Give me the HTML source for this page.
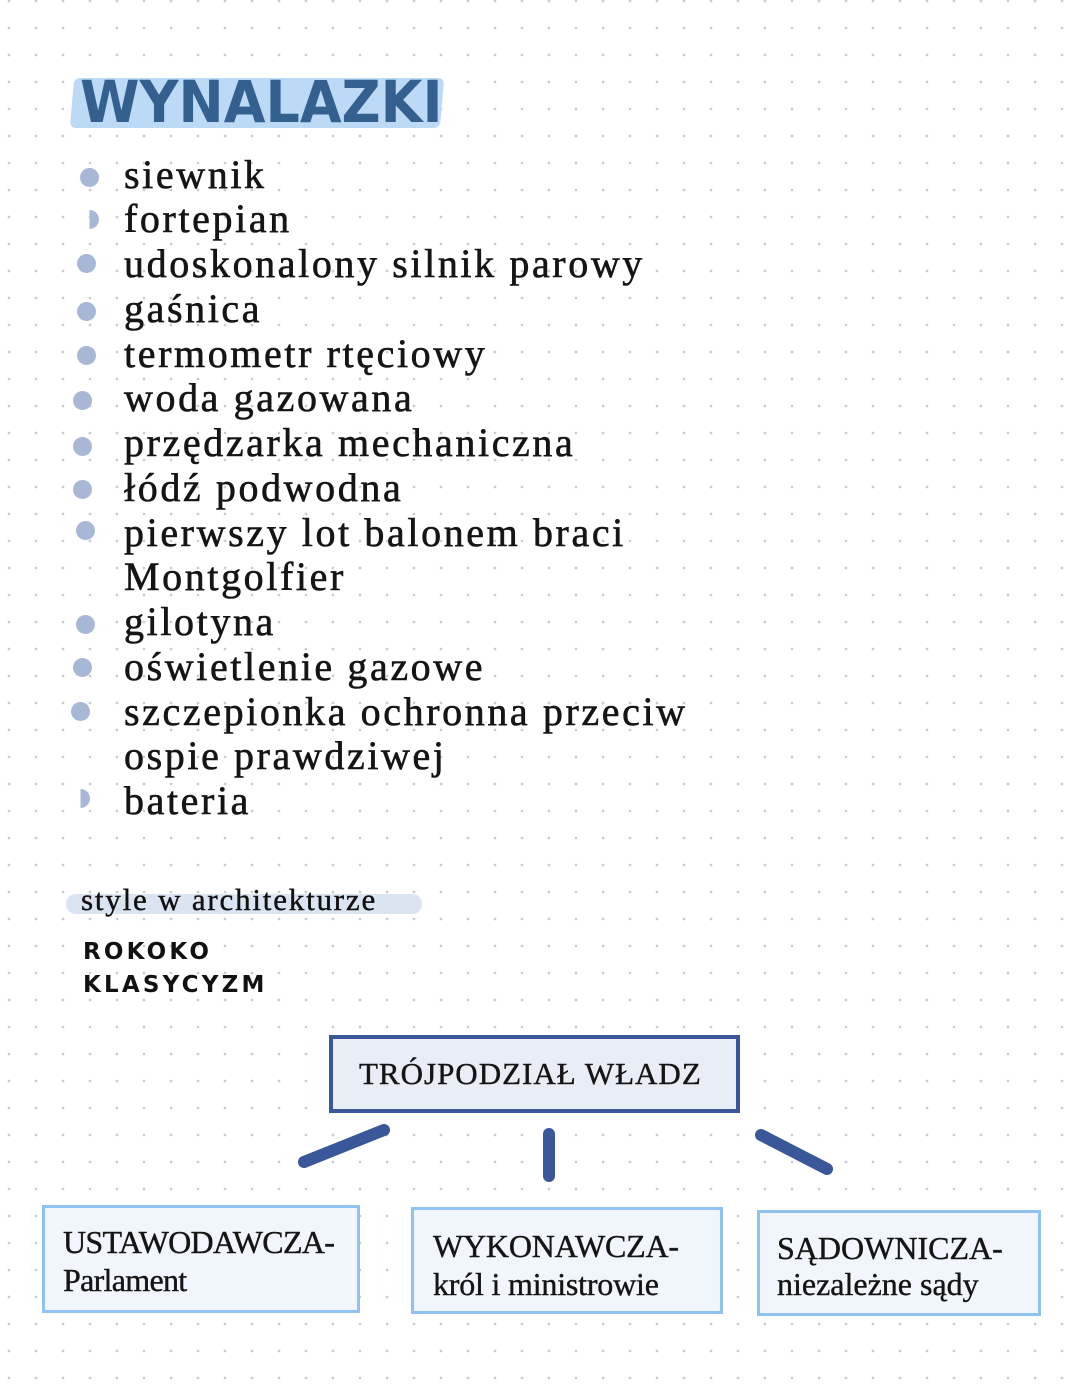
<!DOCTYPE html>
<html><head><meta charset="utf-8"><style>
body{margin:0}
#p{position:relative;width:1080px;height:1394px;overflow:hidden;background-color:#fff;
background-image:radial-gradient(circle,#c9ccd3 1.1px,transparent 1.6px);background-size:27px 27px;background-position:-4.5px -12.5px}
.t{position:absolute;font-family:"Liberation Serif",serif;color:#111;white-space:nowrap}
.li{position:absolute;left:124px;font-family:"Liberation Serif",serif;font-size:40px;letter-spacing:2.6px;color:#151515;line-height:44px;white-space:nowrap;-webkit-text-stroke:0.6px #151515}
.b{position:absolute;width:19px;height:19px;border-radius:50%;background:#a9b7d6}
.box{position:absolute;box-sizing:border-box}
.bt{position:absolute;font-family:"Liberation Serif",serif;font-size:32px;line-height:38px;color:#151515;letter-spacing:1.6px;white-space:nowrap;-webkit-text-stroke:0.4px #151515}
</style></head><body><div id="p">
<div style="position:absolute;left:72px;top:78px;width:370px;height:50px;background:#bcd9f5;transform:skewX(-5deg);border-radius:6px"></div>
<div class="t" style="left:80px;top:68px;font-family:'DejaVu Sans',sans-serif;font-weight:bold;font-size:58px;color:#34608f;letter-spacing:0px;transform:scaleX(0.93);transform-origin:left">WYNALAZKI</div>

<div class="b" style="left:80px;top:168px"></div>
<div class="b" style="left:80px;top:210px;clip-path:inset(0 0 0 50%)"></div>
<div class="b" style="left:77px;top:254px"></div>
<div class="b" style="left:77px;top:302px"></div>
<div class="b" style="left:77px;top:346px"></div>
<div class="b" style="left:73px;top:391px"></div>
<div class="b" style="left:73px;top:437px"></div>
<div class="b" style="left:73px;top:480px"></div>
<div class="b" style="left:76px;top:521px"></div>
<div class="b" style="left:76px;top:615px"></div>
<div class="b" style="left:73px;top:658px"></div>
<div class="b" style="left:71px;top:702px"></div>
<div class="b" style="left:71px;top:789px;clip-path:inset(0 0 0 50%)"></div>

<div class="li" style="top:153px">siewnik</div>
<div class="li" style="top:197px">fortepian</div>
<div class="li" style="top:242px">udoskonalony silnik parowy</div>
<div class="li" style="top:287px">gaśnica</div>
<div class="li" style="top:332px">termometr rtęciowy</div>
<div class="li" style="top:376px">woda gazowana</div>
<div class="li" style="top:421px">przędzarka mechaniczna</div>
<div class="li" style="top:466px">łódź podwodna</div>
<div class="li" style="top:511px">pierwszy lot balonem braci</div>
<div class="li" style="top:555px">Montgolfier</div>
<div class="li" style="top:600px">gilotyna</div>
<div class="li" style="top:645px">oświetlenie gazowe</div>
<div class="li" style="top:690px">szczepionka ochronna przeciw</div>
<div class="li" style="top:734px">ospie prawdziwej</div>
<div class="li" style="top:779px">bateria</div>

<div style="position:absolute;left:66px;top:894px;width:356px;height:20px;border-radius:10px;background:#dbe5f2"></div>
<div class="t" style="left:81px;top:882px;font-size:31px;letter-spacing:1.8px;line-height:36px;-webkit-text-stroke:0.4px #111">style w architekturze</div>
<div class="t" style="left:83px;top:939px;font-family:'DejaVu Sans',sans-serif;font-weight:bold;font-size:23px;letter-spacing:3.2px;line-height:26px">ROKOKO</div>
<div class="t" style="left:83px;top:972px;font-family:'DejaVu Sans',sans-serif;font-weight:bold;font-size:23px;letter-spacing:3.2px;line-height:26px">KLASYCYZM</div>

<div class="box" style="left:329px;top:1035px;width:411px;height:78px;border:4px solid #3a5799;background:#e9edf6"></div>
<div class="bt" style="left:359px;top:1055px;font-size:31px;letter-spacing:1px">TRÓJPODZIAŁ WŁADZ</div>

<svg style="position:absolute;left:0;top:0" width="1080" height="1394">
<g stroke="#3a5799" stroke-width="12" stroke-linecap="round">
<line x1="304" y1="1162" x2="384" y2="1130"/>
<line x1="549" y1="1134" x2="549" y2="1176"/>
<line x1="761" y1="1135" x2="827" y2="1169"/>
</g></svg>

<div class="box" style="left:42px;top:1205px;width:318px;height:108px;border:3.5px solid #8fc2f0;background:#f1f6fd"></div>
<div class="bt" style="left:63px;top:1223px;letter-spacing:-0.7px">USTAWODAWCZA-<br>Parlament</div>
<div class="box" style="left:411px;top:1207px;width:312px;height:107px;border:3.5px solid #8fc2f0;background:#f1f6fd"></div>
<div class="bt" style="left:433px;top:1227px;letter-spacing:-0.2px">WYKONAWCZA-<br>król i ministrowie</div>
<div class="box" style="left:757px;top:1210px;width:284px;height:106px;border:3.5px solid #8fc2f0;background:#f1f6fd"></div>
<div class="bt" style="left:777px;top:1230px;font-size:32px;line-height:36px;letter-spacing:0px">SĄDOWNICZA-<br>niezależne sądy</div>
</div></body></html>
